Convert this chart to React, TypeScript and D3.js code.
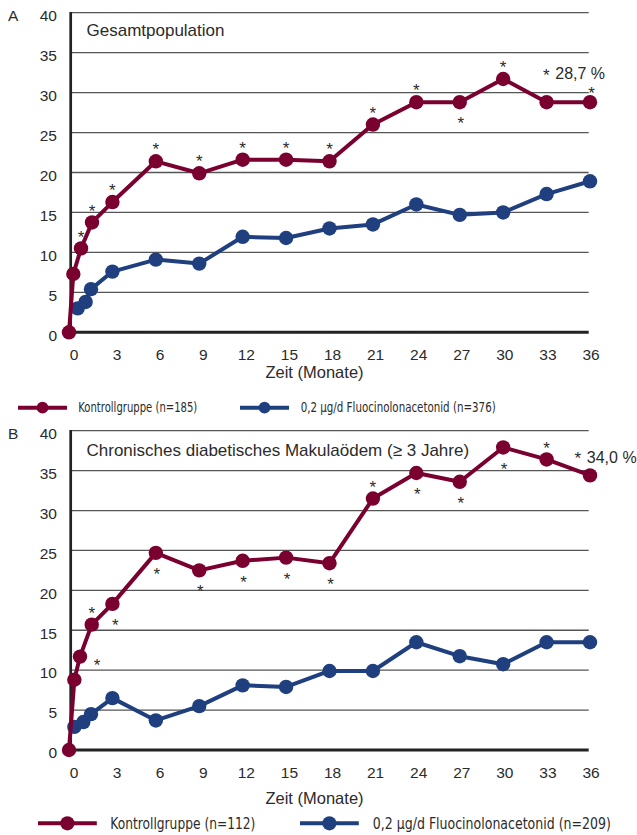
import React from "react";
import * as d3 from "d3";

// ---------- data ----------
const xTicks = [0, 3, 6, 9, 12, 15, 18, 21, 24, 27, 30, 33, 36];
const yTicks = [0, 5, 10, 15, 20, 25, 30, 35, 40];

const monthsCtrlA = [0, 0.3, 0.83, 1.59, 3, 6, 9, 12, 15, 18, 21, 24, 27, 30, 33, 36];
const ctrlA = [0, 7.3, 10.5, 13.75, 16.3, 21.4, 19.9, 21.6, 21.6, 21.4, 26.0, 28.8, 28.8, 31.7, 28.8, 28.8];
const monthsFacA = [0.6, 1.15, 1.52, 3, 6, 9, 12, 15, 18, 21, 24, 27, 30, 33, 36];
const facA = [3.0, 3.8, 5.4, 7.6, 9.1, 8.6, 11.95, 11.8, 13.0, 13.5, 16.0, 14.7, 15.0, 17.3, 18.9];

const monthsCtrlB = [0, 0.37, 0.76, 1.57, 3, 6, 9, 12, 15, 18, 21, 24, 27, 30, 33, 36];
const ctrlB = [0, 8.8, 11.7, 15.7, 18.3, 24.7, 22.5, 23.7, 24.1, 23.4, 31.5, 34.7, 33.6, 37.9, 36.4, 34.4];
const monthsFacB = [0.37, 0.99, 1.52, 3, 6, 9, 12, 15, 18, 21, 24, 27, 30, 33, 36];
const facB = [2.9, 3.5, 4.5, 6.5, 3.7, 5.5, 8.1, 7.9, 9.9, 9.9, 13.5, 11.75, 10.75, 13.5, 13.5];

// significance markers: month of control point and side
const starsA = [
  { m: 0.83, side: "above" }, { m: 1.59, side: "above" }, { m: 3, side: "above" },
  { m: 6, side: "above" }, { m: 9, side: "above" }, { m: 12, side: "above" },
  { m: 15, side: "above" }, { m: 18, side: "above" }, { m: 21, side: "above" },
  { m: 24, side: "above" }, { m: 27, side: "below" }, { m: 30, side: "above" },
  { m: 36, side: "aboveLow" },
];
const starsB = [
  { m: 0.76, side: "right" }, { m: 1.57, side: "above" }, { m: 3, side: "belowRight" },
  { m: 6, side: "below" }, { m: 9, side: "below" }, { m: 12, side: "below" },
  { m: 15, side: "below" }, { m: 18, side: "below" }, { m: 21, side: "above" },
  { m: 24, side: "below" }, { m: 27, side: "below" }, { m: 30, side: "below" },
  { m: 33, side: "above" },
];

const titleA = "Gesamtpopulation";
const titleB = "Chronisches diabetisches Makulaödem (≥ 3 Jahre)";
const endLabelA = { m: 33.6, v: 31.65, text: "28,7 %" };
const endLabelB = { m: 35.78, v: 36.0, text: "34,0 %" };
const legendA = ["Kontrollgruppe (n=185)", "0,2 µg/d Fluocinolonacetonid (n=376)"];
const legendB = ["Kontrollgruppe (n=112)", "0,2 µg/d Fluocinolonacetonid (n=209)"];
const xTitle = "Zeit (Monate)";

// ---------- styles ----------
const RED = "#7a0030";
const BLUE = "#1f3f7f";
const TEXT = "#2b2b2b";
const FONT = "'Liberation Sans', Arial, sans-serif";
const NARROW = "'Liberation Sans Narrow', 'DejaVu Sans Condensed', 'Liberation Sans', sans-serif";

const xScale = d3.scaleLinear().domain([0, 36]).range([69, 590]);
const xLabelScale = d3.scaleLinear().domain([0, 36]).range([74, 591]);
const X0 = 70.7;
const X1 = 588.7;

function Star({ cx, cy }: { cx: number; cy: number }) {
  return (
    <text x={cx} y={cy + 9.6} textAnchor="middle" fontSize={17} fill={TEXT} fontFamily={FONT}>
      *
    </text>
  );
}

function Panel({
  top, bottom, letter, title, titleY, ctrlM, ctrl, facM, fac, stars, endLabel, xTitleOffset,
}: any) {
  const y = d3.scaleLinear().domain([0, 40]).range([bottom, top]);
  const line = d3.line<[number, number]>().x((d) => xScale(d[0])).y((d) => y(d[1]));
  const ctrlPts: [number, number][] = ctrlM.map((m: number, i: number) => [m, ctrl[i]]);
  const facPts: [number, number][] = facM.map((m: number, i: number) => [m, fac[i]]);
  const starOff: Record<string, [number, number]> = {
    above: [0, -15.5],
    aboveLow: [1.5, -12.5],
    below: [1, 17.5],
    right: [17, 5],
    belowRight: [3, 17],
  };
  return (
    <g>
      {yTicks.filter((t) => t > 0).map((t) => (
        <line key={t} x1={X0} x2={X1} y1={y(t)} y2={y(t)} stroke="#555" strokeWidth={1.3} />
      ))}
      <line x1={X0} x2={X0} y1={y(40) - 0.6} y2={y(0) + 1.5} stroke="#222" strokeWidth={2.7} />
      <line x1={X0} x2={X1} y1={y(0)} y2={y(0)} stroke="#222" strokeWidth={3} />
      {yTicks.map((t) => (
        <text key={t} x={57} y={y(t) + 8.3} textAnchor="end" fontSize={15.5} fill={TEXT} fontFamily={FONT}>
          {t}
        </text>
      ))}
      {xTicks.map((t) => (
        <text key={t} x={xLabelScale(t)} y={y(0) + 28} textAnchor="middle" fontSize={15.5} fill={TEXT} fontFamily={FONT}>
          {t}
        </text>
      ))}
      <text x={314.5} y={y(0) + xTitleOffset} textAnchor="middle" fontSize={16.5} fill={TEXT} fontFamily={FONT}>
        {xTitle}
      </text>
      <text x={8} y={top + 8.5} fontSize={15.5} fill={TEXT} fontFamily={FONT}>{letter}</text>
      <text x={86.5} y={titleY} fontSize={17} fill={TEXT} fontFamily={FONT}>{title}</text>

      <path d={line(facPts) || ""} fill="none" stroke={BLUE} strokeWidth={4} strokeLinejoin="round" />
      {facPts.map((p, i) => (
        <circle key={i} cx={xScale(p[0])} cy={y(p[1])} r={7.2} fill={BLUE} />
      ))}
      <path d={line(ctrlPts) || ""} fill="none" stroke={RED} strokeWidth={4} strokeLinejoin="round" />
      {ctrlPts.map((p, i) => (
        <circle key={i} cx={xScale(p[0])} cy={y(p[1])} r={7.2} fill={RED} />
      ))}

      {stars.map((s: any, i: number) => {
        const idx = ctrlM.indexOf(s.m);
        const o = starOff[s.side];
        return <Star key={i} cx={xScale(s.m) + o[0]} cy={y(ctrl[idx]) + o[1]} />;
      })}
      <Star cx={xScale(endLabel.m) - 9} cy={y(endLabel.v) - 8.3} />
      <text x={xScale(endLabel.m)} y={y(endLabel.v)} fontSize={16} fill={TEXT} fontFamily={FONT}>
        {endLabel.text}
      </text>
    </g>
  );
}

function Legend({ y, labels, s, fs, x0, x1, w0, w1 }: any) {
  const len = 49 * s;
  return (
    <g>
      <line x1={x0} x2={x0 + len} y1={y} y2={y} stroke={RED} strokeWidth={4} />
      <circle cx={x0 + len / 2} cy={y} r={5.9 * s} fill={RED} />
      <text x={x0 + len + 11.3 * s} y={y + 4.6 * s} fontSize={fs} fill={TEXT} fontFamily={NARROW}
        textLength={w0} lengthAdjust="spacingAndGlyphs">
        {labels[0]}
      </text>
      <line x1={x1} x2={x1 + len} y1={y} y2={y} stroke={BLUE} strokeWidth={4} />
      <circle cx={x1 + len / 2} cy={y} r={5.9 * s} fill={BLUE} />
      <text x={x1 + len + 11.7 * s} y={y + 4.6 * s} fontSize={fs} fill={TEXT} fontFamily={NARROW}
        textLength={w1} lengthAdjust="spacingAndGlyphs">
        {labels[1]}
      </text>
    </g>
  );
}

export default function App() {
  return (
    <svg width={637} height={835} style={{ position: "absolute", left: 0, top: 0, background: "#fff" }}>
      <rect width={637} height={835} fill="#fff" />
      <Panel top={12.7} bottom={332.3} letter="A" title={titleA} titleY={35.7}
        ctrlM={monthsCtrlA} ctrl={ctrlA} facM={monthsFacA} fac={facA} stars={starsA}
        endLabel={endLabelA} xTitleOffset={46} />
      <Legend y={407.7} labels={legendA} s={1} fs={14} x0={18} x1={240} w0={119} w1={195} />
      <Panel top={430.7} bottom={750} letter="B" title={titleB} titleY={456}
        ctrlM={monthsCtrlB} ctrl={ctrlB} facM={monthsFacB} fac={facB} stars={starsB}
        endLabel={endLabelB} xTitleOffset={54} />
      <Legend y={823.3} labels={legendB} s={1.2} fs={15.5} x0={38} x1={300} w0={145} w1={238} />
    </svg>
  );
}
